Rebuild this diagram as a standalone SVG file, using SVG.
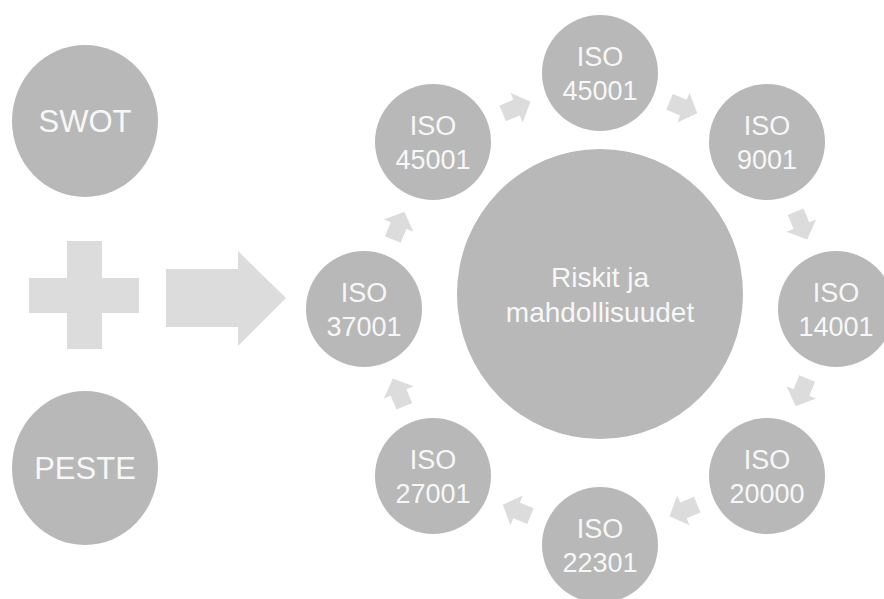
<svg xmlns="http://www.w3.org/2000/svg" xmlns:xlink="http://www.w3.org/1999/xlink" width="884" height="599" viewBox="0 0 884 599">
<style>
.node{fill:#b8b8b8}
.shape{fill:#dcdcdc}
.t{font-family:"Liberation Sans",Arial,sans-serif;fill:#f7f7f7;text-anchor:middle}
.big{font-size:31px}
.iso{font-size:27px}
.ctr{font-size:28px}
</style>
<defs>
<path id="arr" class="shape" d="M-15,-8.5 L0,-8.5 L0,-16 L15,0 L0,16 L0,8.5 L-15,8.5 Z"/>
</defs>
<rect width="884" height="599" fill="#ffffff"/>
<g id="swot"><ellipse class="node" cx="85" cy="121" rx="73" ry="76"/><text class="t big" x="85" y="132">SWOT</text></g>
<g id="plus"><path class="shape" d="M67,241 H102 V278 H139 V313 H102 V349 H67 V313 H29 V278 H67 Z"/></g>
<g id="peste"><ellipse class="node" cx="85" cy="468" rx="73" ry="77"/><text class="t big" x="85" y="479">PESTE</text></g>
<g id="bigarrow"><path class="shape" d="M166,269 H238 V251 L286,298 L238,346 V327 H166 Z"/></g>
<g id="center"><ellipse class="node" cx="600" cy="294" rx="143" ry="145"/><text class="t ctr" x="600" y="287">Riskit ja</text><text class="t ctr" x="600" y="322">mahdollisuudet</text></g>
<g id="n0"><circle class="node" cx="600" cy="73" r="58"/><text class="t iso" x="600" y="66">ISO</text><text class="t iso" x="600" y="100">45001</text></g>
<g id="n1"><circle class="node" cx="767" cy="142" r="58"/><text class="t iso" x="767" y="135">ISO</text><text class="t iso" x="767" y="169">9001</text></g>
<g id="n2"><circle class="node" cx="836" cy="309" r="58"/><text class="t iso" x="836" y="302">ISO</text><text class="t iso" x="836" y="336">14001</text></g>
<g id="n3"><circle class="node" cx="767" cy="476" r="58"/><text class="t iso" x="767" y="469">ISO</text><text class="t iso" x="767" y="503">20000</text></g>
<g id="n4"><circle class="node" cx="600" cy="545" r="58"/><text class="t iso" x="600" y="538">ISO</text><text class="t iso" x="600" y="572">22301</text></g>
<g id="n5"><circle class="node" cx="433" cy="476" r="58"/><text class="t iso" x="433" y="469">ISO</text><text class="t iso" x="433" y="503">27001</text></g>
<g id="n6"><circle class="node" cx="364" cy="309" r="58"/><text class="t iso" x="364" y="302">ISO</text><text class="t iso" x="364" y="336">37001</text></g>
<g id="n7"><circle class="node" cx="433" cy="142" r="58"/><text class="t iso" x="433" y="135">ISO</text><text class="t iso" x="433" y="169">45001</text></g>
<g id="connectors">
<use xlink:href="#arr" href="#arr" transform="translate(683.4,107.6) rotate(22.5)"/>
<use xlink:href="#arr" href="#arr" transform="translate(801.4,225.6) rotate(67.5)"/>
<use xlink:href="#arr" href="#arr" transform="translate(801.4,392.4) rotate(112.5)"/>
<use xlink:href="#arr" href="#arr" transform="translate(683.4,510.4) rotate(157.5)"/>
<use xlink:href="#arr" href="#arr" transform="translate(516.6,510.4) rotate(202.5)"/>
<use xlink:href="#arr" href="#arr" transform="translate(398.6,392.4) rotate(247.5)"/>
<use xlink:href="#arr" href="#arr" transform="translate(398.6,225.6) rotate(292.5)"/>
<use xlink:href="#arr" href="#arr" transform="translate(516.6,107.6) rotate(337.5)"/>
</g>
</svg>
